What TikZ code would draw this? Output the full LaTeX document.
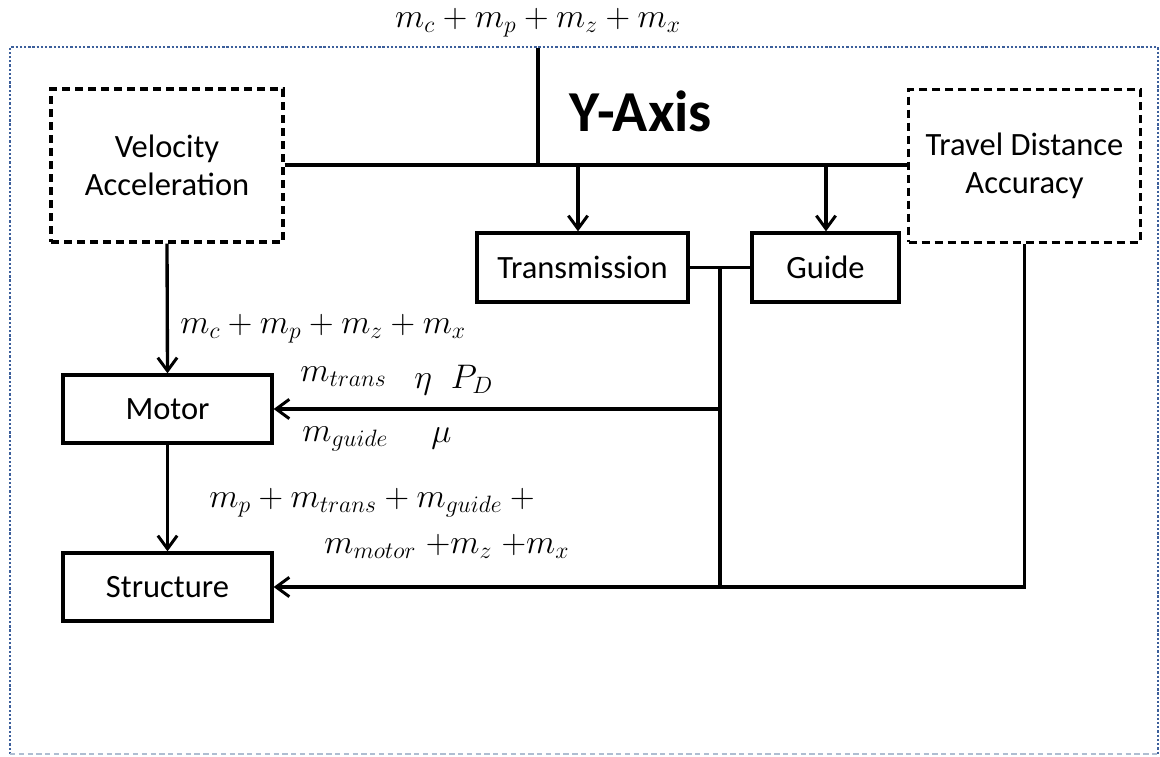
\documentclass[tikz,border=0pt]{standalone}
\usepackage{fontspec}
\usepackage{graphicx}
\setmainfont{Carlito}
\usetikzlibrary{arrows.meta}
% formula set at 20.74pt and brought down to the size used on the labels
\newcommand{\mlabel}[1]{\scalebox{0.935}{$#1$}}
\tikzset{
  wire/.style={line width=1.9pt},
  arr/.style={wire, -{Straight Barb[length=7.5pt,width=11pt,line width=1.7pt]}},
  block/.style={draw, line width=1.9pt, font=\fontsize{18.5}{21}\selectfont, inner sep=0pt},
  reqbox/.style={draw, line width=1.9pt, dash pattern=on 4.6pt off 2.8pt,
    minimum width=4.64cm, minimum height=3.06cm, align=center,
    font=\fontsize{18.5}{21.5}\selectfont},
  lbl/.style={inner sep=0pt, font=\fontsize{20.74}{24}\selectfont},
}
\definecolor{frameblue}{RGB}{60,95,155}
\definecolor{framegray}{RGB}{175,190,210}
\begin{document}
\begin{tikzpicture}[x=0.02cm,y=-0.02cm]
\useasboundingbox[fill=white] (0,0) rectangle (1160,757);
% outer frame of the Y axis
\draw[frameblue, line width=1.4pt, dash pattern=on 1.3pt off 1.1pt]
  (10,754) -- (10,47) -- (1158,47) -- (1158,754);
\draw[framegray, line width=1pt, dash pattern=on 3pt off 2pt] (10,754) -- (1158,754);

\node[font=\fontsize{33}{36}\selectfont\bfseries] (title) at (641,111) {Y-Axis};

% requirement boxes
\node[reqbox] (vel) at (167,165.5) {Velocity\\Acceleration};
\node[reqbox] (tda) at (1024.5,166) {Travel Distance\\Accuracy};

% component boxes
\node[block, minimum width=4.22cm, minimum height=1.38cm] (trans) at (582.5,267.5) {Transmission};
\node[block, minimum width=2.94cm, minimum height=1.38cm] (guide) at (825.5,267.5) {Guide};
\node[block, minimum width=4.18cm, minimum height=1.36cm] (motor) at (167.5,409) {Motor};
\node[block, minimum width=4.18cm, minimum height=1.36cm] (struct) at (167.5,587) {Structure};

% incoming load
\node[lbl] (load) at (538,23) {\mlabel{m_c+m_p+m_z+m_x}};
\coordinate (top) at (538,48);
\coordinate (bus) at (538,165);
\draw[wire] (top) -- (bus);
\draw[wire] (vel.east |- bus) -- (tda.west |- bus);
\draw[arr] (trans.north |- bus) ++(-4.5,0) coordinate (tdrop) -- (tdrop |- trans.north);
\draw[arr] (guide.north |- bus) ++(0.5,0) coordinate (gdrop) -- (gdrop |- guide.north);

% transmission / guide feedback
\coordinate (tg) at (720,268);
\draw[wire] (trans.east) -- (guide.west);
\draw[wire] (tg) -- (720,587) coordinate (sj);
\draw[arr] (tg |- motor.east) -- (motor.east);
\draw[arr] (vel.south) -- (motor.north);
\draw[arr] (motor.south) -- (struct.north);
\draw[arr] (tda.south) -- (tda.south |- struct.east) -- (struct.east);

% parameter labels
\node[lbl, anchor=west] (l1) at (180,329) {\mlabel{m_c+m_p+m_z+m_x}};
\node[lbl, anchor=west] (l2) at (300,377) {\mlabel{m_{trans}}};
\node[lbl, anchor=west] (l3) at (414,380) {\mlabel{\eta\;\;P_D}};
\node[lbl, anchor=west] (l4) at (302,439) {\mlabel{m_{guide}}};
\node[lbl, anchor=west] (l5) at (431,438) {\mlabel{\mu}};
\node[lbl, anchor=west] (l6) at (209,503) {\mlabel{m_p+m_{trans}+m_{guide}+{}}};
\node[lbl, anchor=west] (l7) at (324,546) {\mlabel{m_{motor}\;{+}m_z\;{+}m_x}};
\end{tikzpicture}
\end{document}
